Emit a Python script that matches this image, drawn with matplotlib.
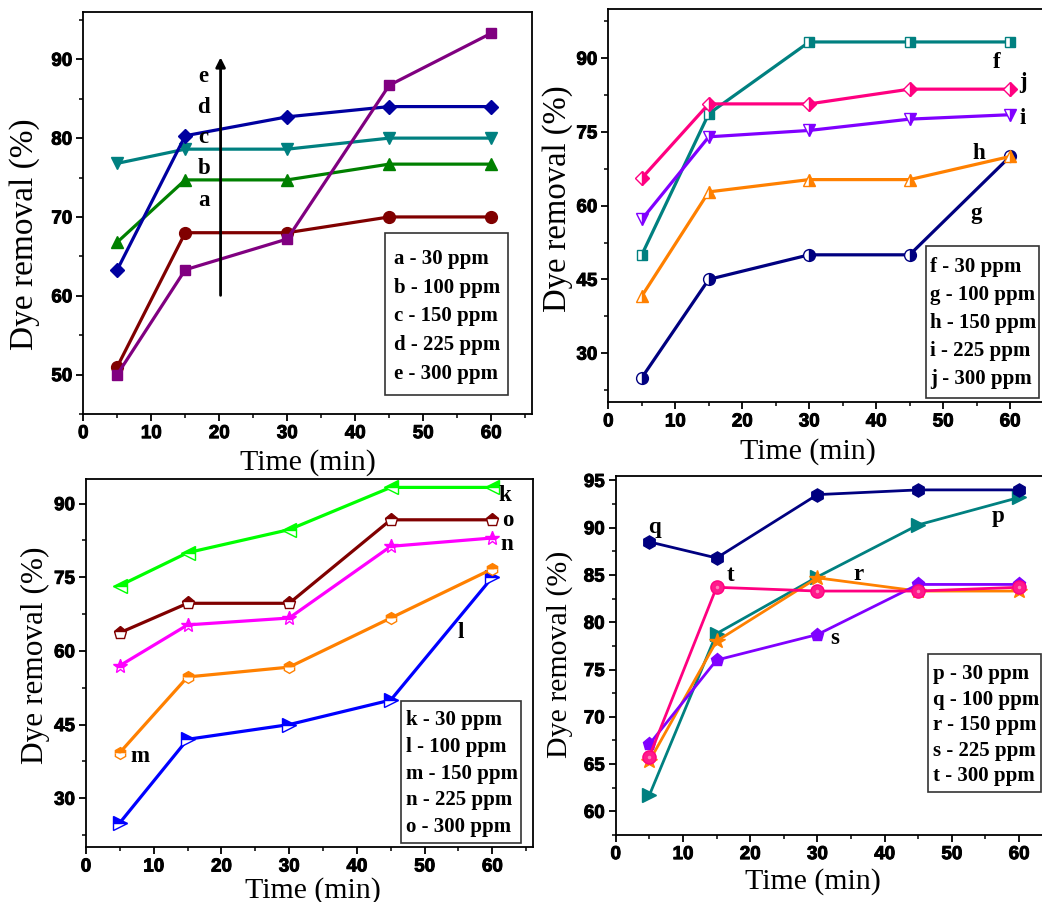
import matplotlib
matplotlib.use("Agg")
import matplotlib.pyplot as plt
import matplotlib.patheffects as pe
from matplotlib.patches import Rectangle
from matplotlib.ticker import MultipleLocator

SERIF = "Liberation Serif"
SANS = "Liberation Sans"
plt.rcParams["font.family"] = SANS
plt.rcParams["font.weight"] = "bold"

time_min = [5, 15, 30, 45, 60]

# top left panel
p1_labels = ["a - 30 ppm", "b - 100 ppm", "c - 150 ppm", "d - 225 ppm", "e - 300 ppm"]
p1_a = [51.0, 68.0, 68.0, 70.0, 70.0]
p1_b = [66.8, 74.7, 74.7, 76.7, 76.7]
p1_c = [76.8, 78.6, 78.6, 80.0, 80.0]
p1_d = [63.3, 80.3, 82.7, 84.0, 84.0]
p1_e = [50.0, 63.3, 67.2, 86.7, 93.3]

# top right panel
p2_labels = ["f - 30 ppm", "g - 100 ppm", "h - 150 ppm", "i - 225 ppm", "j - 300 ppm"]
p2_f = [50.0, 78.7, 93.3, 93.3, 93.3]
p2_g = [25.0, 45.0, 50.0, 50.0, 70.0]
p2_h = [41.6, 62.8, 65.3, 65.3, 70.0]
p2_i = [57.2, 74.0, 75.3, 77.6, 78.5]
p2_j = [65.6, 80.7, 80.7, 83.7, 83.7]

# bottom left panel
p3_labels = ["k - 30 ppm", "l - 100 ppm", "m - 150 ppm", "n - 225 ppm", "o - 300 ppm"]
p3_k = [73.3, 80.0, 84.7, 93.3, 93.3]
p3_l = [25.0, 42.0, 45.0, 50.0, 75.0]
p3_m = [39.3, 54.7, 56.7, 66.7, 76.7]
p3_n = [57.0, 65.3, 66.7, 81.3, 83.0]
p3_o = [63.7, 69.7, 69.7, 86.7, 86.7]

# bottom right panel
p4_labels = ["p - 30 ppm", "q - 100 ppm", "r - 150 ppm", "s - 225 ppm", "t - 300 ppm"]
p4_p = [61.7, 78.8, 84.8, 90.3, 93.2]
p4_q = [88.5, 86.8, 93.5, 94.0, 94.0]
p4_r = [65.3, 78.0, 84.7, 83.3, 83.3]
p4_s = [67.1, 76.0, 78.7, 84.0, 84.0]
p4_t = [65.8, 83.7, 83.3, 83.3, 83.7]

heavy = [pe.withStroke(linewidth=0.7, foreground="black")]


def style(ax, ylim, major, minor, ylab_size, ylab_x, ylab_y, xlab_x, xlab_y):
    ax.set_xlim(0, 66)
    ax.set_ylim(*ylim)
    ax.xaxis.set_major_locator(MultipleLocator(10))
    ax.xaxis.set_minor_locator(MultipleLocator(5))
    ax.yaxis.set_major_locator(MultipleLocator(major))
    ax.yaxis.set_minor_locator(MultipleLocator(minor))
    ax.tick_params(which="major", direction="out", length=5, width=1.3,
                   top=False, right=False, pad=3, labelsize=13.5)
    ax.tick_params(which="minor", direction="out", length=3, width=1.1,
                   top=False, right=False)
    for lab in ax.get_xticklabels() + ax.get_yticklabels():
        lab.set_path_effects(heavy)
    for sp in ax.spines.values():
        sp.set_linewidth(1.3)
    ax.set_ylabel("Dye removal (%)", fontfamily=SERIF, fontweight="normal",
                  fontsize=ylab_size)
    ax.set_xlabel("Time (min)", fontfamily=SERIF, fontweight="normal", fontsize=21.5)
    ax.yaxis.set_label_coords(ylab_x, ylab_y)
    ax.xaxis.set_label_coords(xlab_x, xlab_y)


def key_box(ax, labels, x0, x1, y0, y1, tx, ty_top, step):
    ax.add_patch(Rectangle((x0, y0), x1 - x0, y1 - y0, transform=ax.transAxes,
                           fill=True, facecolor="white", edgecolor="#333333",
                           lw=1.2, zorder=5))
    for i, s in enumerate(labels):
        ax.text(tx, ty_top - i * step, s, transform=ax.transAxes, ha="left",
                va="center", fontfamily=SERIF, fontweight="bold", fontsize=15,
                zorder=6)


def tag(ax, x, y, s):
    ax.text(x, y, s, ha="center", va="center", fontfamily=SERIF,
            fontweight="bold", fontsize=16.5, zorder=7)


fig = plt.figure(figsize=(10.42, 9.02), dpi=100)

lw = 2.3
ms = 8.5

# ---- panel 1
ax1 = fig.add_axes([0.0799, 0.541, 0.4306, 0.4457])
ax1.plot(time_min, p1_a, color="#800000", marker="o", lw=lw, ms=ms)
ax1.plot(time_min, p1_b, color="#008000", marker="^", lw=lw, ms=ms)
ax1.plot(time_min, p1_c, color="#008080", marker="v", lw=lw, ms=ms)
ax1.plot(time_min, p1_d, color="#0000A0", marker="D", lw=lw, ms=ms - 1)
ax1.plot(time_min, p1_e, color="#800080", marker="s", lw=lw, ms=ms - 1)
ax1.annotate("", xy=(20.2, 90.6), xytext=(20.2, 59.7),
             arrowprops=dict(arrowstyle="-|>", color="black", lw=2,
                             mutation_scale=14))
for s, yy in zip(["e", "d", "c", "b", "a"], [87.8, 83.9, 80.1, 76.1, 72.1]):
    tag(ax1, 17.7, yy, s)
style(ax1, (45, 96), 10, 5, 24, -0.0965, 0.448, 0.5, -0.088)
key_box(ax1, p1_labels, 0.672, 0.9466, 0.0473, 0.450, 0.692, 0.386, 0.0715)

# ---- panel 2
ax2 = fig.add_axes([0.5838, 0.554, 0.4241, 0.436])
ax2.plot(time_min, p2_f, color="#008080", marker="s", fillstyle="right",
         markerfacecoloralt="white", lw=lw, ms=ms - 1)
ax2.plot(time_min, p2_g, color="#000080", marker="o", fillstyle="right",
         markerfacecoloralt="white", lw=lw, ms=ms)
ax2.plot(time_min, p2_h, color="#FF8000", marker="^", fillstyle="right",
         markerfacecoloralt="white", lw=lw, ms=ms)
ax2.plot(time_min, p2_i, color="#8000FF", marker="v", fillstyle="right",
         markerfacecoloralt="white", lw=lw, ms=ms)
ax2.plot(time_min, p2_j, color="#FF0080", marker="D", fillstyle="right",
         markerfacecoloralt="white", lw=lw, ms=ms - 1)
tag(ax2, 58.0, 89.2, "f")
tag(ax2, 61.9, 85.1, "j")
tag(ax2, 61.9, 77.7, "i")
tag(ax2, 55.4, 70.6, "h")
tag(ax2, 54.9, 58.4, "g")
style(ax2, (20, 100), 15, 7.5, 23.5, -0.08, 0.517, 0.452, -0.09)
key_box(ax2, p2_labels, 0.718, 0.9747, 0.0117, 0.397, 0.728, 0.345, 0.0715)

# ---- panel 3
ax3 = fig.add_axes([0.0825, 0.0606, 0.429, 0.4083])
ax3.plot(time_min, p3_k, color="#00FF00", marker="<", fillstyle="top",
         markerfacecoloralt="white", lw=lw, ms=ms + 1)
ax3.plot(time_min, p3_l, color="#0000FF", marker=">", fillstyle="top",
         markerfacecoloralt="white", lw=lw, ms=ms + 1)
ax3.plot(time_min, p3_m, color="#FF8000", marker="h", fillstyle="top",
         markerfacecoloralt="white", lw=lw, ms=ms)
ax3.plot(time_min, p3_n, color="#FF00FF", marker="*", fillstyle="top",
         markerfacecoloralt="white", lw=lw, ms=ms + 2)
ax3.plot(time_min, p3_o, color="#800000", marker="p", fillstyle="top",
         markerfacecoloralt="white", lw=lw, ms=ms + 1)
tag(ax3, 61.8, 91.6, "k")
tag(ax3, 62.3, 86.5, "o")
tag(ax3, 62.2, 81.7, "n")
tag(ax3, 55.3, 63.7, "l")
tag(ax3, 7.9, 38.6, "m")
style(ax3, (20, 95), 15, 7.5, 22.5, -0.0805, 0.522, 0.508, -0.08)
key_box(ax3, p3_labels, 0.7047, 0.973, 0.0109, 0.398, 0.716, 0.345, 0.0725)

# ---- panel 4
ax4 = fig.add_axes([0.5909, 0.0743, 0.4258, 0.3983])
lw4 = 2.0
ax4.plot(time_min, p4_p, color="#008080", marker=">", lw=lw4, ms=ms + 1)
ax4.plot(time_min, p4_q, color="#000080", marker="h", lw=lw4, ms=ms + 1)
ax4.plot(time_min, p4_r, color="#FF8000", marker="*", lw=lw4, ms=ms + 3)
ax4.plot(time_min, p4_s, color="#8000FF", marker="p", lw=lw4, ms=ms + 1)
ax4.plot(time_min, p4_t, color="#FF0080", marker="o", mfc="#FF1A8C",
         mec="#FF0080", lw=lw4, ms=ms + 1)
ax4.plot(time_min, p4_t, color="#FF80BB", marker="o", mec="none", lw=0, ms=2.5)
tag(ax4, 5.8, 90.0, "q")
tag(ax4, 17.0, 84.9, "t")
tag(ax4, 36.1, 85.0, "r")
tag(ax4, 32.6, 78.3, "s")
tag(ax4, 56.8, 91.2, "p")
style(ax4, (57.5, 95.5), 5, 2.5, 21.5, -0.0955, 0.504, 0.445, -0.092)
key_box(ax4, p4_labels, 0.7045, 0.9585, 0.119, 0.503, 0.7144, 0.447, 0.0707)

fig.savefig("out.png", dpi=100)
